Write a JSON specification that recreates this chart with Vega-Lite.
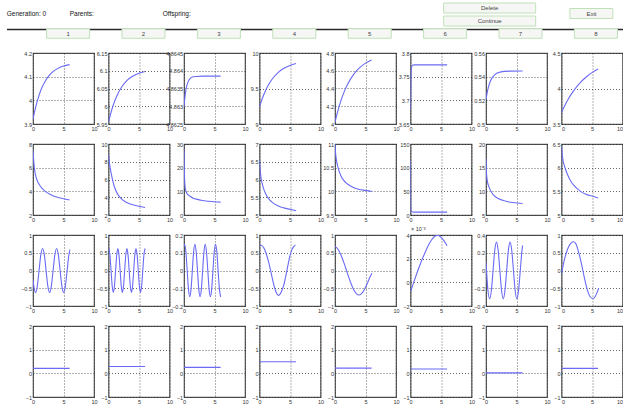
{
"$schema": "https://vega.github.io/schema/vega-lite/v6.json",
"padding": {"left": 6, "top": 0, "right": 0, "bottom": 0},
"background": "white",
"bounds": "flush",
"spacing": 0,
"datasets": {
"tabs": [{"col":1,"label":"1"},{"col":2,"label":"2"},{"col":3,"label":"3"},{"col":4,"label":"4"},{"col":5,"label":"5"},{"col":6,"label":"6"},{"col":7,"label":"7"},{"col":8,"label":"8"}],
"actions": [{"label":"Delete","col":6.591,"line":8},{"label":"Continue","col":6.591,"line":21},{"label":"Exit","col":7.94,"line":13.5}],
"status": [{"label":"Generation: 0","col":0.186,"line":14},{"label":"Parents:","col":1.021,"line":14},{"label":"Offspring:","col":2.255,"line":14}],
"p11": [{"x":0,"y":3.92},{"x":0.25,"y":3.951},{"x":0.5,"y":3.978},{"x":1,"y":4.022},{"x":1.5,"y":4.056},{"x":2,"y":4.081},{"x":2.5,"y":4.1},{"x":3,"y":4.115},{"x":4,"y":4.134},{"x":5,"y":4.145},{"x":6,"y":4.151}],
"p12": [{"x":0,"y":5.955},{"x":0.5,"y":5.988},{"x":1,"y":6.014},{"x":1.5,"y":6.034},{"x":2,"y":6.05},{"x":3,"y":6.072},{"x":4,"y":6.085},{"x":5,"y":6.093},{"x":6,"y":6.098}],
"p13": [{"x":0,"y":4.86298},{"x":0.1,"y":4.86317},{"x":0.2,"y":4.86332},{"x":0.4,"y":4.86353},{"x":0.6,"y":4.86366},{"x":0.8,"y":4.86373},{"x":1,"y":4.86378},{"x":1.5,"y":4.86383},{"x":2,"y":4.86384},{"x":3,"y":4.86385},{"x":6,"y":4.86385}],
"p14": [{"x":0,"y":9.24},{"x":0.5,"y":9.369},{"x":1,"y":9.473},{"x":1.5,"y":9.556},{"x":2,"y":9.623},{"x":3,"y":9.721},{"x":4,"y":9.784},{"x":5,"y":9.825},{"x":6,"y":9.851}],
"p15": [{"x":0,"y":4.02},{"x":0.5,"y":4.156},{"x":1,"y":4.269},{"x":1.5,"y":4.362},{"x":2,"y":4.439},{"x":3,"y":4.554},{"x":4,"y":4.632},{"x":5,"y":4.686},{"x":6,"y":4.722}],
"p16": [{"x":0,"y":3.68},{"x":0.04,"y":3.72},{"x":0.08,"y":3.75},{"x":0.15,"y":3.767},{"x":0.3,"y":3.774},{"x":0.6,"y":3.775},{"x":6,"y":3.775}],
"p17": [{"x":0,"y":0.5206},{"x":0.25,"y":0.5279},{"x":0.5,"y":0.533},{"x":0.75,"y":0.5365},{"x":1,"y":0.539},{"x":1.5,"y":0.542},{"x":2,"y":0.5434},{"x":3,"y":0.5445},{"x":4,"y":0.5447},{"x":6,"y":0.5448}],
"p18": [{"x":0,"y":3.66},{"x":0.5,"y":3.753},{"x":1,"y":3.835},{"x":1.5,"y":3.907},{"x":2,"y":3.971},{"x":3,"y":4.077},{"x":4,"y":4.159},{"x":5,"y":4.224},{"x":6,"y":4.274}],
"p21": [{"x":0,"y":7.5},{"x":0.1,"y":6.7},{"x":0.2,"y":6.1},{"x":0.4,"y":5.4},{"x":0.7,"y":4.9},{"x":1,"y":4.6},{"x":1.5,"y":4.25},{"x":2,"y":4.0},{"x":3,"y":3.7},{"x":4,"y":3.5},{"x":5,"y":3.38},{"x":6,"y":3.27}],
"p22": [{"x":0,"y":8.8},{"x":0.1,"y":8.2},{"x":0.25,"y":7.4},{"x":0.5,"y":6.5},{"x":0.75,"y":5.7},{"x":1,"y":5.1},{"x":1.5,"y":4.35},{"x":2,"y":3.9},{"x":3,"y":3.4},{"x":4,"y":3.15},{"x":5,"y":2.98},{"x":6,"y":2.85}],
"p23": [{"x":0,"y":28},{"x":0.05,"y":20},{"x":0.1,"y":15},{"x":0.2,"y":11.5},{"x":0.4,"y":9.5},{"x":0.7,"y":8.5},{"x":1,"y":7.9},{"x":1.5,"y":7.1},{"x":2,"y":6.7},{"x":3,"y":6.1},{"x":4,"y":5.8},{"x":5,"y":5.6},{"x":6,"y":5.45}],
"p24": [{"x":0,"y":6.55},{"x":0.1,"y":6.3},{"x":0.25,"y":6.05},{"x":0.5,"y":5.85},{"x":0.75,"y":5.7},{"x":1,"y":5.6},{"x":1.5,"y":5.46},{"x":2,"y":5.37},{"x":3,"y":5.26},{"x":4,"y":5.2},{"x":5,"y":5.16},{"x":6,"y":5.12}],
"p25": [{"x":0,"y":11.0},{"x":0.1,"y":10.8},{"x":0.25,"y":10.65},{"x":0.5,"y":10.5},{"x":1,"y":10.32},{"x":1.5,"y":10.22},{"x":2,"y":10.16},{"x":3,"y":10.08},{"x":4,"y":10.04},{"x":5,"y":10.02},{"x":6,"y":10.0}],
"p26": [{"x":0,"y":115},{"x":0.03,"y":20},{"x":0.1,"y":8},{"x":0.3,"y":6.5},{"x":1,"y":6},{"x":6,"y":6}],
"p27": [{"x":0,"y":17},{"x":0.1,"y":13.5},{"x":0.25,"y":12},{"x":0.5,"y":10.9},{"x":1,"y":9.6},{"x":1.5,"y":8.9},{"x":2,"y":8.5},{"x":3,"y":8.0},{"x":4,"y":7.7},{"x":5,"y":7.55},{"x":6,"y":7.42}],
"p28": [{"x":0,"y":6.45},{"x":0.1,"y":6.3},{"x":0.25,"y":6.15},{"x":0.5,"y":6.03},{"x":1,"y":5.85},{"x":1.5,"y":5.72},{"x":2,"y":5.63},{"x":3,"y":5.51},{"x":4,"y":5.44},{"x":5,"y":5.4},{"x":6,"y":5.36}],
"p31": [{"x":0,"y":-0.255},{"x":0.133,"y":-0.438},{"x":0.42,"y":-0.62},{"x":0.708,"y":-0.438},{"x":0.995,"y":0},{"x":1.283,"y":0.438},{"x":1.57,"y":0.62},{"x":1.858,"y":0.438},{"x":2.145,"y":0},{"x":2.433,"y":-0.438},{"x":2.72,"y":-0.62},{"x":3.008,"y":-0.438},{"x":3.295,"y":0},{"x":3.583,"y":0.438},{"x":3.87,"y":0.62},{"x":4.158,"y":0.438},{"x":4.445,"y":0},{"x":4.733,"y":-0.438},{"x":5.02,"y":-0.62},{"x":5.308,"y":-0.438},{"x":5.595,"y":0},{"x":5.883,"y":0.438},{"x":6.05,"y":0.59}],
"p32": [{"x":0,"y":0.606},{"x":0.05,"y":0.62},{"x":0.236,"y":0.438},{"x":0.421,"y":0},{"x":0.607,"y":-0.438},{"x":0.793,"y":-0.62},{"x":0.978,"y":-0.438},{"x":1.164,"y":0},{"x":1.349,"y":0.438},{"x":1.535,"y":0.62},{"x":1.721,"y":0.438},{"x":1.906,"y":0},{"x":2.092,"y":-0.438},{"x":2.278,"y":-0.62},{"x":2.463,"y":-0.438},{"x":2.649,"y":0},{"x":2.835,"y":0.438},{"x":3.02,"y":0.62},{"x":3.206,"y":0.438},{"x":3.391,"y":0},{"x":3.577,"y":-0.438},{"x":3.763,"y":-0.62},{"x":3.948,"y":-0.438},{"x":4.134,"y":0},{"x":4.319,"y":0.438},{"x":4.505,"y":0.62},{"x":4.691,"y":0.438},{"x":4.876,"y":0},{"x":5.062,"y":-0.438},{"x":5.248,"y":-0.62},{"x":5.433,"y":-0.438},{"x":5.619,"y":0},{"x":5.804,"y":0.438},{"x":5.99,"y":0.62}],
"p33": [{"x":0,"y":0.138},{"x":0.1,"y":0.148},{"x":0.311,"y":0.105},{"x":0.523,"y":0},{"x":0.734,"y":-0.105},{"x":0.945,"y":-0.148},{"x":1.156,"y":-0.105},{"x":1.368,"y":0},{"x":1.579,"y":0.105},{"x":1.79,"y":0.148},{"x":2.001,"y":0.105},{"x":2.213,"y":0},{"x":2.424,"y":-0.105},{"x":2.635,"y":-0.148},{"x":2.846,"y":-0.105},{"x":3.058,"y":0},{"x":3.269,"y":0.105},{"x":3.48,"y":0.148},{"x":3.691,"y":0.105},{"x":3.903,"y":0},{"x":4.114,"y":-0.105},{"x":4.325,"y":-0.148},{"x":4.536,"y":-0.105},{"x":4.748,"y":0},{"x":4.959,"y":0.105},{"x":5.17,"y":0.148},{"x":5.381,"y":0.105},{"x":5.593,"y":0},{"x":5.804,"y":-0.105},{"x":6.015,"y":-0.148}],
"p34": [{"x":0,"y":0.7},{"x":0.3,"y":0.71},{"x":0.7,"y":0.64},{"x":1.0,"y":0.52},{"x":1.4,"y":0.3},{"x":1.8,"y":0.02},{"x":2.2,"y":-0.3},{"x":2.5,"y":-0.5},{"x":2.8,"y":-0.64},{"x":3.1,"y":-0.7},{"x":3.4,"y":-0.66},{"x":3.7,"y":-0.55},{"x":4.0,"y":-0.4},{"x":4.4,"y":-0.08},{"x":4.7,"y":0.18},{"x":5.0,"y":0.42},{"x":5.3,"y":0.58},{"x":5.6,"y":0.67},{"x":5.9,"y":0.71}],
"p35": [{"x":0,"y":0.68},{"x":0.5,"y":0.6},{"x":1.0,"y":0.43},{"x":1.5,"y":0.2},{"x":2.0,"y":-0.06},{"x":2.5,"y":-0.31},{"x":3.0,"y":-0.52},{"x":3.5,"y":-0.65},{"x":3.9,"y":-0.69},{"x":4.3,"y":-0.66},{"x":4.8,"y":-0.54},{"x":5.3,"y":-0.36},{"x":5.7,"y":-0.2},{"x":6.05,"y":-0.08}],
"p36": [{"x":0,"y":-0.0008},{"x":0.5,"y":-0.00005},{"x":1.0,"y":0.0007},{"x":1.5,"y":0.0014},{"x":2.0,"y":0.00205},{"x":2.5,"y":0.00265},{"x":3.0,"y":0.0032},{"x":3.5,"y":0.00362},{"x":4.0,"y":0.0039},{"x":4.3,"y":0.00397},{"x":4.6,"y":0.00395},{"x":5.0,"y":0.0038},{"x":5.5,"y":0.0035},{"x":6.0,"y":0.0031}],
"p37": [{"x":0,"y":0.1},{"x":0.321,"y":-0.226},{"x":0.6,"y":-0.32},{"x":0.879,"y":-0.226},{"x":1.158,"y":0},{"x":1.436,"y":0.226},{"x":1.715,"y":0.32},{"x":1.994,"y":0.226},{"x":2.273,"y":0},{"x":2.551,"y":-0.226},{"x":2.83,"y":-0.32},{"x":3.109,"y":-0.226},{"x":3.388,"y":0},{"x":3.666,"y":0.226},{"x":3.945,"y":0.32},{"x":4.224,"y":0.226},{"x":4.503,"y":0},{"x":4.781,"y":-0.226},{"x":5.06,"y":-0.32},{"x":5.339,"y":-0.226},{"x":5.618,"y":0},{"x":5.896,"y":0.226},{"x":6.0,"y":0.282}],
"p38": [{"x":0,"y":-0.1},{"x":0.4,"y":0.25},{"x":0.8,"y":0.5},{"x":1.2,"y":0.68},{"x":1.6,"y":0.78},{"x":1.95,"y":0.81},{"x":2.3,"y":0.77},{"x":2.7,"y":0.58},{"x":3.1,"y":0.32},{"x":3.5,"y":0.0},{"x":3.9,"y":-0.32},{"x":4.3,"y":-0.58},{"x":4.7,"y":-0.74},{"x":5.15,"y":-0.79},{"x":5.5,"y":-0.74},{"x":5.8,"y":-0.63},{"x":6.1,"y":-0.5}],
"p41": [{"x":0,"y":0.21},{"x":6,"y":0.21}],
"p42": [{"x":0,"y":0.29},{"x":6,"y":0.29}],
"p43": [{"x":0,"y":0.25},{"x":6,"y":0.25}],
"p44": [{"x":0,"y":0.49},{"x":6,"y":0.49}],
"p45": [{"x":0,"y":0.22},{"x":6,"y":0.22}],
"p46": [{"x":0,"y":0.18},{"x":6,"y":0.18}],
"p47": [{"x":0,"y":0.02},{"x":6,"y":0.02}],
"p48": [{"x":0,"y":0.21},{"x":6,"y":0.21}]
},
"vconcat": [
{
"width": 589.5, "height": 53, "view": {"stroke": null},
"layer": [
{"data": {"values": [{}]}, "mark": {"type": "rule", "stroke": "#2a2a2a", "strokeWidth": 1.6},
 "encoding": {"x": {"datum": 0.19, "type": "quantitative", "scale": {"domain": [0.5345, 8.3527], "nice": false, "zero": false}, "axis": null}, "x2": {"datum": 8.36}, "y": {"datum": 29.5, "type": "quantitative", "scale": {"domain": [0, 53], "reverse": true, "nice": false, "zero": false}, "axis": null}}},
{"data": {"name": "tabs"}, "mark": {"type": "rect", "width": 43, "height": 9.5, "fill": "#f6f7f5", "stroke": "#bfe0b8", "strokeWidth": 1},
 "encoding": {"x": {"field": "col", "type": "quantitative", "scale": {"domain": [0.5345, 8.3527], "nice": false, "zero": false}, "axis": null}, "y": {"datum": 33.5, "type": "quantitative", "scale": {"domain": [0, 53], "reverse": true, "nice": false, "zero": false}, "axis": null}}},
{"data": {"name": "tabs"}, "mark": {"type": "text", "fontSize": 6, "color": "#444", "baseline": "middle", "font": "Liberation Sans"},
 "encoding": {"x": {"field": "col", "type": "quantitative", "axis": null}, "y": {"datum": 33.7, "type": "quantitative", "axis": null}, "text": {"field": "label"}}},
{"data": {"name": "actions"}, "transform": [{"filter": "datum.label !== 'Exit'"}], "mark": {"type": "rect", "width": 92, "height": 10, "fill": "#f6f7f5", "stroke": "#bfe0b8", "strokeWidth": 1},
 "encoding": {"x": {"field": "col", "type": "quantitative", "axis": null}, "y": {"field": "line", "type": "quantitative", "axis": null}}},
{"data": {"name": "actions"}, "transform": [{"filter": "datum.label === 'Exit'"}], "mark": {"type": "rect", "width": 43, "height": 10, "fill": "#f6f7f5", "stroke": "#bfe0b8", "strokeWidth": 1},
 "encoding": {"x": {"field": "col", "type": "quantitative", "axis": null}, "y": {"field": "line", "type": "quantitative", "axis": null}}},
{"data": {"name": "actions"}, "mark": {"type": "text", "fontSize": 6, "color": "#444", "baseline": "middle", "font": "Liberation Sans"},
 "encoding": {"x": {"field": "col", "type": "quantitative", "axis": null}, "y": {"field": "line", "type": "quantitative", "axis": null}, "text": {"field": "label"}}},
{"data": {"name": "status"}, "mark": {"type": "text", "fontSize": 6.5, "color": "#111", "align": "left", "baseline": "middle", "font": "Liberation Sans"},
 "encoding": {"x": {"field": "col", "type": "quantitative", "axis": null}, "y": {"field": "line", "type": "quantitative", "axis": null}, "text": {"field": "label"}}}
]
},
{
"columns": 8, "spacing": {"row": 20, "column": 14.5}, "bounds": "flush",
"concat": [
{"width":61,"height":71,"data":{"name":"p11"},"mark":{"type":"line","interpolate":"monotone","clip":true},"encoding":{"x":{"field":"x","type":"quantitative","scale":{"domain":[0,10],"nice":false},"axis":{"values":[0,5,10],"title":null}},"y":{"field":"y","type":"quantitative","scale":{"domain":[3.9,4.2],"nice":false,"zero":false},"axis":{"values":[3.9,4,4.1,4.2],"format":".6~g","title":null}}}},
{"width":61,"height":71,"data":{"name":"p12"},"mark":{"type":"line","interpolate":"monotone","clip":true},"encoding":{"x":{"field":"x","type":"quantitative","scale":{"domain":[0,10],"nice":false},"axis":{"values":[0,5,10],"title":null}},"y":{"field":"y","type":"quantitative","scale":{"domain":[5.95,6.15],"nice":false,"zero":false},"axis":{"values":[5.95,6,6.05,6.1,6.15],"format":".6~g","title":null}}}},
{"width":61,"height":71,"data":{"name":"p13"},"mark":{"type":"line","interpolate":"monotone","clip":true},"encoding":{"x":{"field":"x","type":"quantitative","scale":{"domain":[0,10],"nice":false},"axis":{"values":[0,5,10],"title":null}},"y":{"field":"y","type":"quantitative","scale":{"domain":[4.8625,4.8645],"nice":false,"zero":false},"axis":{"values":[4.8625,4.863,4.8635,4.864,4.8645],"format":".6~g","title":null}}}},
{"width":61,"height":71,"data":{"name":"p14"},"mark":{"type":"line","interpolate":"monotone","clip":true},"encoding":{"x":{"field":"x","type":"quantitative","scale":{"domain":[0,10],"nice":false},"axis":{"values":[0,5,10],"title":null}},"y":{"field":"y","type":"quantitative","scale":{"domain":[9,10],"nice":false,"zero":false},"axis":{"values":[9,9.5,10],"format":".6~g","title":null}}}},
{"width":61,"height":71,"data":{"name":"p15"},"mark":{"type":"line","interpolate":"monotone","clip":true},"encoding":{"x":{"field":"x","type":"quantitative","scale":{"domain":[0,10],"nice":false},"axis":{"values":[0,5,10],"title":null}},"y":{"field":"y","type":"quantitative","scale":{"domain":[4,4.8],"nice":false,"zero":false},"axis":{"values":[4,4.2,4.4,4.6,4.8],"format":".6~g","title":null}}}},
{"width":61,"height":71,"data":{"name":"p16"},"mark":{"type":"line","interpolate":"monotone","clip":true},"encoding":{"x":{"field":"x","type":"quantitative","scale":{"domain":[0,10],"nice":false},"axis":{"values":[0,5,10],"title":null}},"y":{"field":"y","type":"quantitative","scale":{"domain":[3.65,3.8],"nice":false,"zero":false},"axis":{"values":[3.65,3.7,3.75,3.8],"format":".6~g","title":null}}}},
{"width":61,"height":71,"data":{"name":"p17"},"mark":{"type":"line","interpolate":"monotone","clip":true},"encoding":{"x":{"field":"x","type":"quantitative","scale":{"domain":[0,10],"nice":false},"axis":{"values":[0,5,10],"title":null}},"y":{"field":"y","type":"quantitative","scale":{"domain":[0.5,0.56],"nice":false,"zero":false},"axis":{"values":[0.5,0.52,0.54,0.56],"format":".6~g","title":null}}}},
{"width":61,"height":71,"data":{"name":"p18"},"mark":{"type":"line","interpolate":"monotone","clip":true},"encoding":{"x":{"field":"x","type":"quantitative","scale":{"domain":[0,10],"nice":false},"axis":{"values":[0,5,10],"title":null,"labelFlush":true}},"y":{"field":"y","type":"quantitative","scale":{"domain":[3.5,4.5],"nice":false,"zero":false},"axis":{"values":[3.5,4,4.5],"format":".6~g","title":null}}}},
{"width":61,"height":71,"data":{"name":"p21"},"mark":{"type":"line","interpolate":"monotone","clip":true},"encoding":{"x":{"field":"x","type":"quantitative","scale":{"domain":[0,10],"nice":false},"axis":{"values":[0,5,10],"title":null}},"y":{"field":"y","type":"quantitative","scale":{"domain":[2,8],"nice":false,"zero":false},"axis":{"values":[2,4,6,8],"format":".6~g","title":null}}}},
{"width":61,"height":71,"data":{"name":"p22"},"mark":{"type":"line","interpolate":"monotone","clip":true},"encoding":{"x":{"field":"x","type":"quantitative","scale":{"domain":[0,10],"nice":false},"axis":{"values":[0,5,10],"title":null}},"y":{"field":"y","type":"quantitative","scale":{"domain":[2,10],"nice":false,"zero":false},"axis":{"values":[2,4,6,8,10],"format":".6~g","title":null}}}},
{"width":61,"height":71,"data":{"name":"p23"},"mark":{"type":"line","interpolate":"monotone","clip":true},"encoding":{"x":{"field":"x","type":"quantitative","scale":{"domain":[0,10],"nice":false},"axis":{"values":[0,5,10],"title":null}},"y":{"field":"y","type":"quantitative","scale":{"domain":[0,30],"nice":false,"zero":false},"axis":{"values":[0,10,20,30],"format":".6~g","title":null}}}},
{"width":61,"height":71,"data":{"name":"p24"},"mark":{"type":"line","interpolate":"monotone","clip":true},"encoding":{"x":{"field":"x","type":"quantitative","scale":{"domain":[0,10],"nice":false},"axis":{"values":[0,5,10],"title":null}},"y":{"field":"y","type":"quantitative","scale":{"domain":[5,7],"nice":false,"zero":false},"axis":{"values":[5,5.5,6,6.5,7],"format":".6~g","title":null}}}},
{"width":61,"height":71,"data":{"name":"p25"},"mark":{"type":"line","interpolate":"monotone","clip":true},"encoding":{"x":{"field":"x","type":"quantitative","scale":{"domain":[0,10],"nice":false},"axis":{"values":[0,5,10],"title":null}},"y":{"field":"y","type":"quantitative","scale":{"domain":[9.5,11],"nice":false,"zero":false},"axis":{"values":[9.5,10,10.5,11],"format":".6~g","title":null}}}},
{"width":61,"height":71,"data":{"name":"p26"},"mark":{"type":"line","interpolate":"monotone","clip":true},"encoding":{"x":{"field":"x","type":"quantitative","scale":{"domain":[0,10],"nice":false},"axis":{"values":[0,5,10],"title":null}},"y":{"field":"y","type":"quantitative","scale":{"domain":[0,150],"nice":false,"zero":false},"axis":{"values":[0,50,100,150],"format":".6~g","title":null}}}},
{"width":61,"height":71,"data":{"name":"p27"},"mark":{"type":"line","interpolate":"monotone","clip":true},"encoding":{"x":{"field":"x","type":"quantitative","scale":{"domain":[0,10],"nice":false},"axis":{"values":[0,5,10],"title":null}},"y":{"field":"y","type":"quantitative","scale":{"domain":[5,20],"nice":false,"zero":false},"axis":{"values":[5,10,15,20],"format":".6~g","title":null}}}},
{"width":61,"height":71,"data":{"name":"p28"},"mark":{"type":"line","interpolate":"monotone","clip":true},"encoding":{"x":{"field":"x","type":"quantitative","scale":{"domain":[0,10],"nice":false},"axis":{"values":[0,5,10],"title":null,"labelFlush":true}},"y":{"field":"y","type":"quantitative","scale":{"domain":[5,6.5],"nice":false,"zero":false},"axis":{"values":[5,5.5,6,6.5],"format":".6~g","title":null}}}},
{"width":61,"height":71,"data":{"name":"p31"},"mark":{"type":"line","interpolate":"monotone","clip":true},"encoding":{"x":{"field":"x","type":"quantitative","scale":{"domain":[0,10],"nice":false},"axis":{"values":[0,5,10],"title":null}},"y":{"field":"y","type":"quantitative","scale":{"domain":[-1,1],"nice":false,"zero":false},"axis":{"values":[-1,-0.5,0,0.5,1],"format":".6~g","title":null}}}},
{"width":61,"height":71,"data":{"name":"p32"},"mark":{"type":"line","interpolate":"monotone","clip":true},"encoding":{"x":{"field":"x","type":"quantitative","scale":{"domain":[0,10],"nice":false},"axis":{"values":[0,5,10],"title":null}},"y":{"field":"y","type":"quantitative","scale":{"domain":[-1,1],"nice":false,"zero":false},"axis":{"values":[-1,-0.5,0,0.5,1],"format":".6~g","title":null}}}},
{"width":61,"height":71,"data":{"name":"p33"},"mark":{"type":"line","interpolate":"monotone","clip":true},"encoding":{"x":{"field":"x","type":"quantitative","scale":{"domain":[0,10],"nice":false},"axis":{"values":[0,5,10],"title":null}},"y":{"field":"y","type":"quantitative","scale":{"domain":[-0.2,0.2],"nice":false,"zero":false},"axis":{"values":[-0.2,-0.1,0,0.1,0.2],"format":".6~g","title":null}}}},
{"width":61,"height":71,"data":{"name":"p34"},"mark":{"type":"line","interpolate":"monotone","clip":true},"encoding":{"x":{"field":"x","type":"quantitative","scale":{"domain":[0,10],"nice":false},"axis":{"values":[0,5,10],"title":null}},"y":{"field":"y","type":"quantitative","scale":{"domain":[-1,1],"nice":false,"zero":false},"axis":{"values":[-1,-0.5,0,0.5,1],"format":".6~g","title":null}}}},
{"width":61,"height":71,"data":{"name":"p35"},"mark":{"type":"line","interpolate":"monotone","clip":true},"encoding":{"x":{"field":"x","type":"quantitative","scale":{"domain":[0,10],"nice":false},"axis":{"values":[0,5,10],"title":null}},"y":{"field":"y","type":"quantitative","scale":{"domain":[-1,1],"nice":false,"zero":false},"axis":{"values":[-1,-0.5,0,0.5,1],"format":".6~g","title":null}}}},
{"width":61,"height":71,"data":{"name":"p36"},"mark":{"type":"line","interpolate":"monotone","clip":true},"encoding":{"x":{"field":"x","type":"quantitative","scale":{"domain":[0,10],"nice":false},"axis":{"values":[0,5,10],"title":null}},"y":{"field":"y","type":"quantitative","scale":{"domain":[-0.002,0.004],"nice":false,"zero":false},"axis":{"values":[-0.002,0,0.002,0.004],"labelExpr":"format(datum.value*1000,'.6~g')","title":"× 10⁻³","titleAngle":0,"titleX":0,"titleY":-4,"titleAlign":"left","titleBaseline":"bottom","titleFontSize":5.5,"titleFontWeight":"normal","titleFont":"Liberation Sans","titleColor":"#333"}}}},
{"width":61,"height":71,"data":{"name":"p37"},"mark":{"type":"line","interpolate":"monotone","clip":true},"encoding":{"x":{"field":"x","type":"quantitative","scale":{"domain":[0,10],"nice":false},"axis":{"values":[0,5,10],"title":null}},"y":{"field":"y","type":"quantitative","scale":{"domain":[-0.4,0.4],"nice":false,"zero":false},"axis":{"values":[-0.4,-0.2,0,0.2,0.4],"format":".6~g","title":null}}}},
{"width":61,"height":71,"data":{"name":"p38"},"mark":{"type":"line","interpolate":"monotone","clip":true},"encoding":{"x":{"field":"x","type":"quantitative","scale":{"domain":[0,10],"nice":false},"axis":{"values":[0,5,10],"title":null,"labelFlush":true}},"y":{"field":"y","type":"quantitative","scale":{"domain":[-1,1],"nice":false,"zero":false},"axis":{"values":[-1,-0.5,0,0.5,1],"format":".6~g","title":null}}}},
{"width":61,"height":71,"data":{"name":"p41"},"mark":{"type":"line","clip":true},"encoding":{"x":{"field":"x","type":"quantitative","scale":{"domain":[0,10],"nice":false},"axis":{"values":[0,5,10],"title":null}},"y":{"field":"y","type":"quantitative","scale":{"domain":[-1,2],"nice":false,"zero":false},"axis":{"values":[-1,0,1,2],"format":".6~g","title":null}}}},
{"width":61,"height":71,"data":{"name":"p42"},"mark":{"type":"line","clip":true},"encoding":{"x":{"field":"x","type":"quantitative","scale":{"domain":[0,10],"nice":false},"axis":{"values":[0,5,10],"title":null}},"y":{"field":"y","type":"quantitative","scale":{"domain":[-1,2],"nice":false,"zero":false},"axis":{"values":[-1,0,1,2],"format":".6~g","title":null}}}},
{"width":61,"height":71,"data":{"name":"p43"},"mark":{"type":"line","clip":true},"encoding":{"x":{"field":"x","type":"quantitative","scale":{"domain":[0,10],"nice":false},"axis":{"values":[0,5,10],"title":null}},"y":{"field":"y","type":"quantitative","scale":{"domain":[-1,2],"nice":false,"zero":false},"axis":{"values":[-1,0,1,2],"format":".6~g","title":null}}}},
{"width":61,"height":71,"data":{"name":"p44"},"mark":{"type":"line","clip":true},"encoding":{"x":{"field":"x","type":"quantitative","scale":{"domain":[0,10],"nice":false},"axis":{"values":[0,5,10],"title":null}},"y":{"field":"y","type":"quantitative","scale":{"domain":[-1,2],"nice":false,"zero":false},"axis":{"values":[-1,0,1,2],"format":".6~g","title":null}}}},
{"width":61,"height":71,"data":{"name":"p45"},"mark":{"type":"line","clip":true},"encoding":{"x":{"field":"x","type":"quantitative","scale":{"domain":[0,10],"nice":false},"axis":{"values":[0,5,10],"title":null}},"y":{"field":"y","type":"quantitative","scale":{"domain":[-1,2],"nice":false,"zero":false},"axis":{"values":[-1,0,1,2],"format":".6~g","title":null}}}},
{"width":61,"height":71,"data":{"name":"p46"},"mark":{"type":"line","clip":true},"encoding":{"x":{"field":"x","type":"quantitative","scale":{"domain":[0,10],"nice":false},"axis":{"values":[0,5,10],"title":null}},"y":{"field":"y","type":"quantitative","scale":{"domain":[-1,2],"nice":false,"zero":false},"axis":{"values":[-1,0,1,2],"format":".6~g","title":null}}}},
{"width":61,"height":71,"data":{"name":"p47"},"mark":{"type":"line","clip":true},"encoding":{"x":{"field":"x","type":"quantitative","scale":{"domain":[0,10],"nice":false},"axis":{"values":[0,5,10],"title":null}},"y":{"field":"y","type":"quantitative","scale":{"domain":[-1,2],"nice":false,"zero":false},"axis":{"values":[-1,0,1,2],"format":".6~g","title":null}}}},
{"width":61,"height":71,"data":{"name":"p48"},"mark":{"type":"line","clip":true},"encoding":{"x":{"field":"x","type":"quantitative","scale":{"domain":[0,10],"nice":false},"axis":{"values":[0,5,10],"title":null,"labelFlush":true}},"y":{"field":"y","type":"quantitative","scale":{"domain":[-1,2],"nice":false,"zero":false},"axis":{"values":[-1,0,1,2],"format":".6~g","title":null}}}}
]
}
],
"config": {
"view": {"stroke": "#555", "strokeWidth": 1.2},
"axis": {"grid": true, "gridColor": "#222", "gridDash": [1, 2], "gridWidth": 0.7, "domain": false, "ticks": false, "labelFont": "Liberation Sans", "labelFontSize": 5.5, "labelColor": "#333", "labelPadding": 2, "labelOverlap": false, "labelFlush": false, "labelBound": false},
"axisY": {"labelPadding": 1.5},
"line": {"color": "#6a6af5", "strokeWidth": 1.1}
}
}
